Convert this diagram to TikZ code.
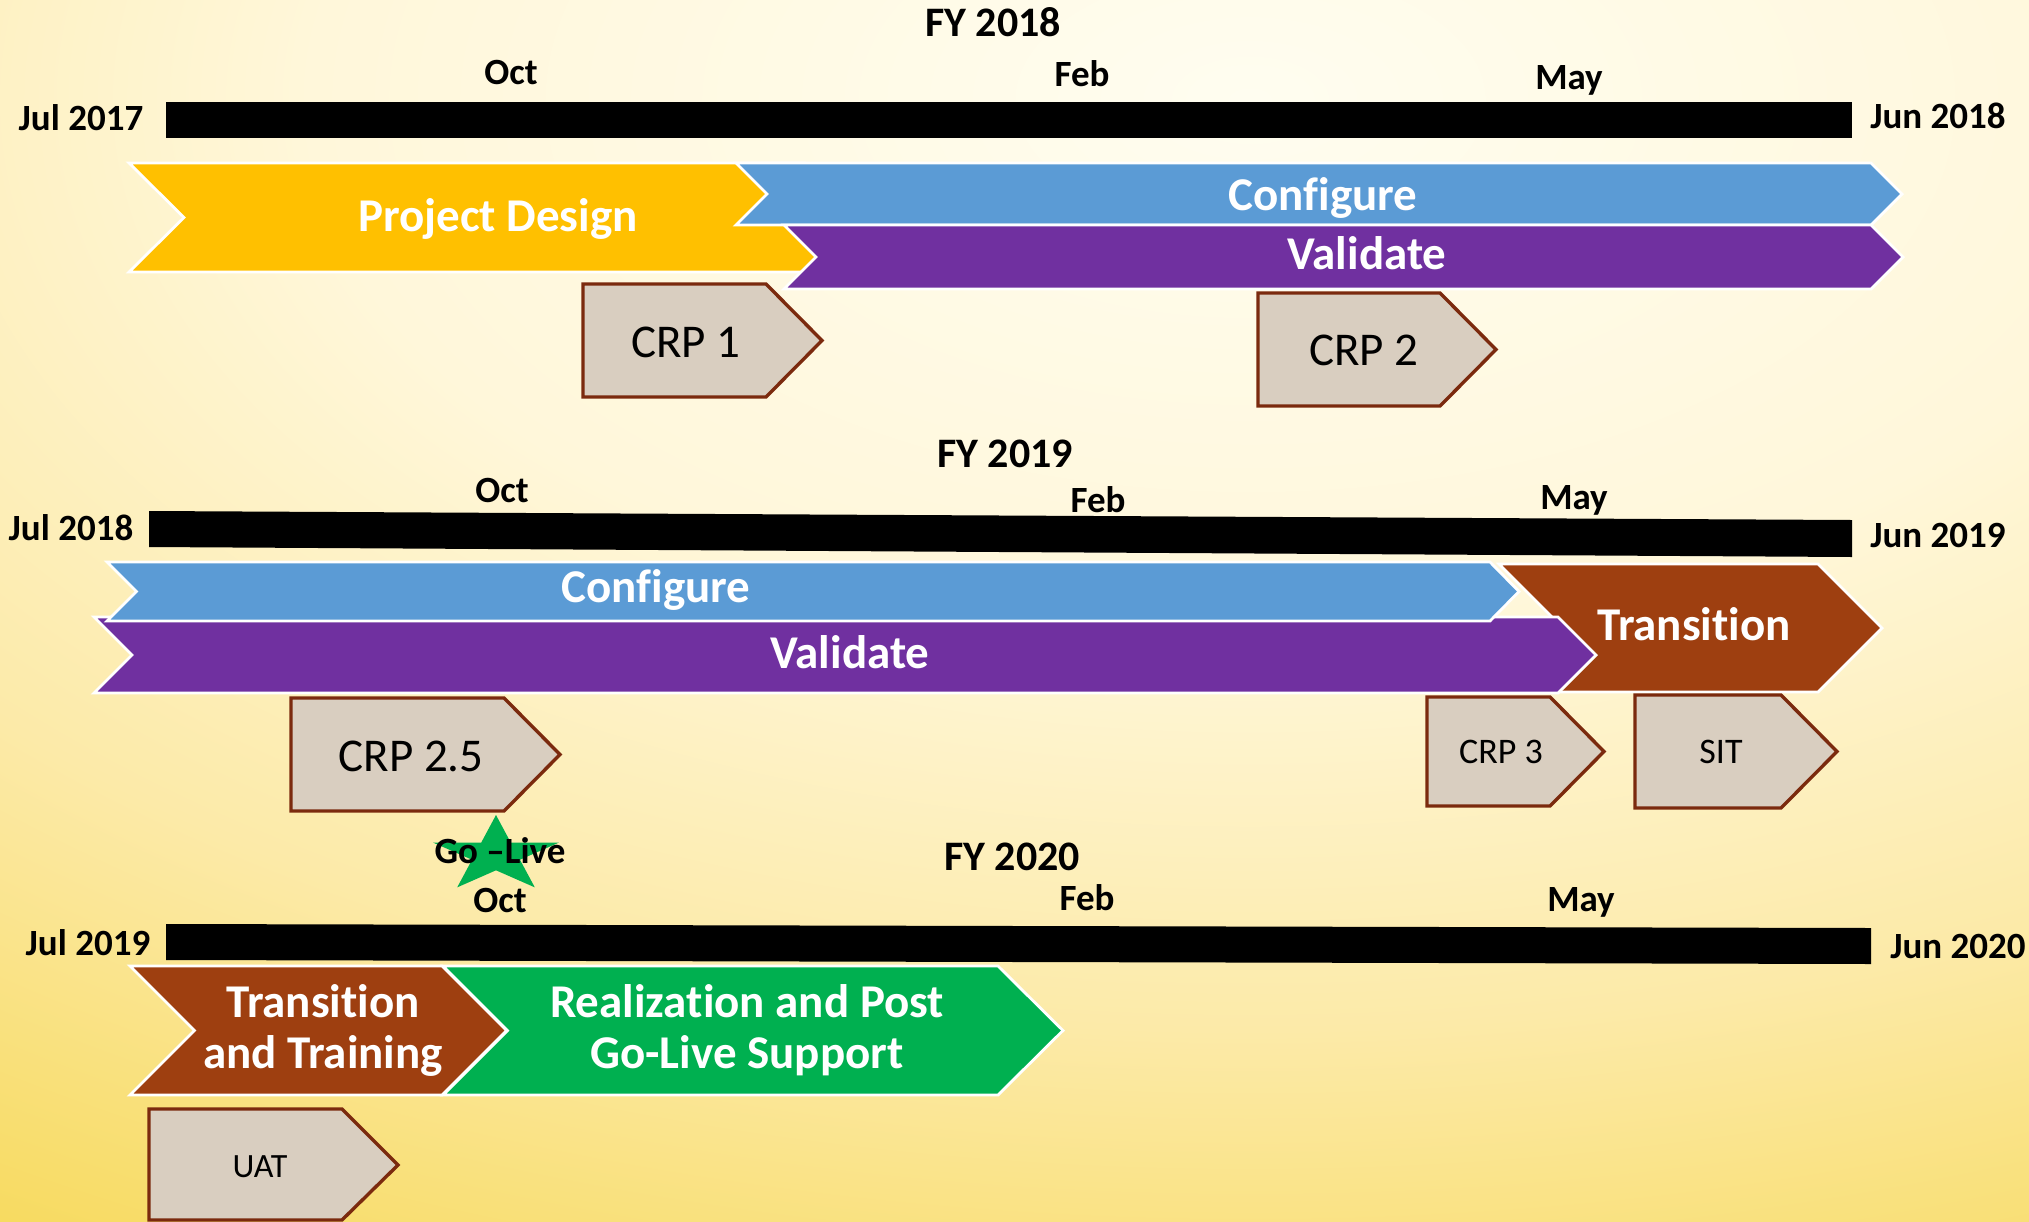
\documentclass[tikz,border=0pt]{standalone}
\usepackage{fontspec}
\setmainfont{Carlito}[Ligatures={TeX,NoCommon}]
\usepackage{tikz}

\definecolor{pdyellow}{HTML}{FFC000}
\definecolor{cfgblue}{HTML}{5B9BD5}
\definecolor{valpurple}{HTML}{7030A0}
\definecolor{trnbrown}{HTML}{9E3F10}
\definecolor{golivegreen}{HTML}{00B050}
\definecolor{crpfill}{HTML}{D9CEC0}
\definecolor{crpline}{HTML}{7B2A0E}
\definecolor{bgA}{HTML}{FFFDF0}
\definecolor{bgB}{HTML}{FFF7DA}
\definecolor{bgC}{HTML}{FCEAA8}
\definecolor{bgD}{HTML}{F7DA5E}
\definecolor{bgE}{HTML}{F4CE38}

\pgfdeclareradialshading{bgglow}{\pgfpoint{0bp}{0bp}}{color(0bp)=(bgA); color(8.7bp)=(bgB); color(15.5bp)=(bgC); color(22.2bp)=(bgD); color(28bp)=(bgE); color(50bp)=(bgE)}

\begin{document}
\begin{tikzpicture}[x=0.5pt, y=-0.5pt,
    phase/.style={draw=white, line width=1.4pt},
    crp/.style={fill=crpfill, draw=crpline, line width=1.7pt},
    datelbl/.style={anchor=base, font=\bfseries\fontsize{18.5}{20}\selectfont},
    fylbl/.style={anchor=base, font=\bfseries\fontsize{21}{23}\selectfont},
    phaselbl/.style={anchor=base, text=white, font=\bfseries\fontsize{23.5}{25}\selectfont},
    crplbl/.style={anchor=base, font=\fontsize{23.5}{25}\selectfont},
    smallcrplbl/.style={anchor=base, font=\fontsize{18}{20}\selectfont}]
        \useasboundingbox (0,0) rectangle (2029,1221);

        % Background glow
        \begin{scope}
            \clip (0,0) rectangle (2029,1221);
            \fill[bgE] (0,0) rectangle (2029,1221);
            \shade[shading=bgglow] (1250,100) ellipse [x radius=1350pt, y radius=750pt];
        \end{scope}

        % FY 2018
        \fill (166,102) rectangle (1852,138);
        \node[fylbl] (fy18) at (993,36) {FY 2018};
        \node[datelbl] (oct18) at (511,84) {Oct};
        \node[datelbl] (feb18) at (1082,86) {Feb};
        \node[datelbl] (may18) at (1569,89) {May};
        \node[datelbl] (jul17) at (81,130) {Jul 2017};
        \node[datelbl] (jun18) at (1938,128) {Jun 2018};

        \filldraw[phase, fill=pdyellow] (129,163) -- (805,163) -- (860,217.5) -- (805,272) -- (129,272) -- (184,217.5) -- cycle;
        \filldraw[phase, fill=cfgblue] (736,163) -- (1871,163) -- (1902,194) -- (1871,225) -- (736,225) -- (767,194) -- cycle;
        \filldraw[phase, fill=valpurple] (784,225) -- (1871,225) -- (1903,257) -- (1871,289) -- (784,289) -- (816,257) -- cycle;
        \node[phaselbl] (design) at (498,231) {Project Design};
        \node[phaselbl] (config18) at (1323,210) {Configure};
        \node[phaselbl] (valid18) at (1367,269) {Validate};

        \filldraw[crp] (583,284) -- (766,284) -- (822,340.5) -- (766,397) -- (583,397) -- cycle;
        \filldraw[crp] (1258,293) -- (1440,293) -- (1496,349.5) -- (1440,406) -- (1258,406) -- cycle;
        \node[crplbl] (crp1) at (686,357) {CRP 1};
        \node[crplbl] (crp2) at (1364,365) {CRP 2};

        % FY 2019
        \fill (149,511) -- (1852,520) -- (1852,557) -- (149,547) -- cycle;
        \node[fylbl] (fy19) at (1005,467) {FY 2019};
        \node[datelbl] (oct19) at (502,502) {Oct};
        \node[datelbl] (feb19) at (1098,512) {Feb};
        \node[datelbl] (may19) at (1574,509) {May};
        \node[datelbl] (jul18) at (71,540) {Jul 2018};
        \node[datelbl] (jun19) at (1938,547) {Jun 2019};

        \filldraw[phase, fill=trnbrown] (1499,564) -- (1818,564) -- (1882,628) -- (1818,692) -- (1499,692) -- (1563,628) -- cycle;
        \filldraw[phase, fill=valpurple] (94,617) -- (1558,617) -- (1596,655) -- (1558,693) -- (94,693) -- (132,655) -- cycle;
        \filldraw[phase, fill=cfgblue] (107,562) -- (1490,562) -- (1519,591.5) -- (1490,621) -- (107,621) -- (136.5,591.5) -- cycle;
        \node[phaselbl] (config19) at (656,602) {Configure};
        \node[phaselbl] (valid19) at (850,668) {Validate};
        \node[phaselbl] (trans19) at (1694,640) {Transition};

        \filldraw[crp] (291,698) -- (504,698) -- (560,754.5) -- (504,811) -- (291,811) -- cycle;
        \filldraw[crp] (1427,697) -- (1550,697) -- (1604,751.5) -- (1550,806) -- (1427,806) -- cycle;
        \filldraw[crp] (1635,695) -- (1781,695) -- (1837,751.5) -- (1781,808) -- (1635,808) -- cycle;
        \node[crplbl] (crp25) at (411,771) {CRP 2.5};
        \node[smallcrplbl] (crp3) at (1501,763) {CRP 3};
        \node[smallcrplbl] (sit) at (1721,763) {SIT};

        % FY 2020
        \fill[golivegreen, shift={(496,855)}] (270:66 and 40)
            \foreach \a in {342,54,126,198} {-- (\a-36:25.2 and 15.3) -- (\a:66 and 40)} -- (234:25.2 and 15.3) -- cycle;
        \node[datelbl] (golive) at (500,863) {Go –Live};

        \fill (166,924) -- (1871,928) -- (1871,964) -- (166,960) -- cycle;
        \node[fylbl] (fy20) at (1012,870) {FY 2020};
        \node[datelbl] (oct20) at (500,912) {Oct};
        \node[datelbl] (feb20) at (1087,910) {Feb};
        \node[datelbl] (may20) at (1581,911) {May};
        \node[datelbl] (jul19) at (88,955) {Jul 2019};
        \node[datelbl] (jun20) at (1958,958) {Jun 2020};

        \filldraw[phase, fill=golivegreen] (443,966) -- (998,966) -- (1063,1030.5) -- (998,1095) -- (443,1095) -- (507.5,1030.5) -- cycle;
        \filldraw[phase, fill=trnbrown] (130,966) -- (442,966) -- (506.5,1030.5) -- (442,1095) -- (130,1095) -- (194.5,1030.5) -- cycle;
        \node[phaselbl] (trans20a) at (323,1017) {Transition};
        \node[phaselbl] (trans20b) at (323,1068) {and Training};
        \node[phaselbl] (support20a) at (747,1017) {Realization and Post};
        \node[phaselbl] (support20b) at (747,1068) {Go-Live Support};

        \filldraw[crp] (149,1109) -- (342,1109) -- (398,1165) -- (342,1220) -- (149,1220) -- cycle;
        \node[anchor=base, font=\fontsize{17}{19}\selectfont] (uat) at (260,1177) {UAT};
\end{tikzpicture}
\end{document}
